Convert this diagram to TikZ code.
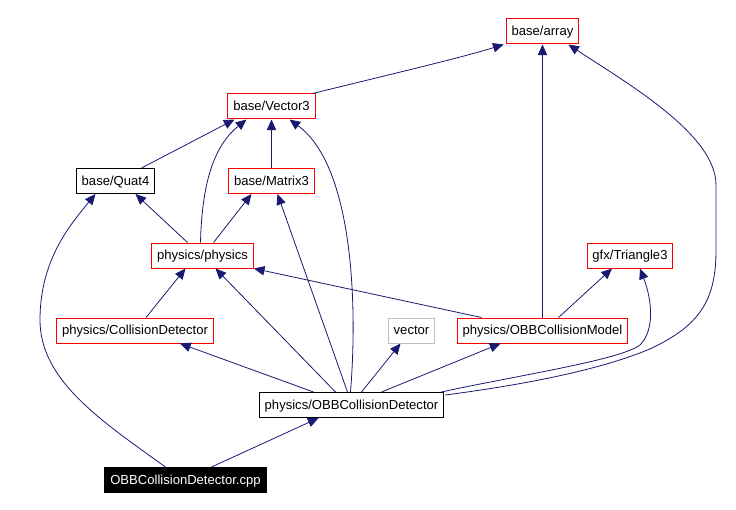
\documentclass[tikz,border=0pt]{standalone}
\usepackage{fontspec}
\setmainfont{Liberation Sans}
\usetikzlibrary{arrows.meta,calc}
\definecolor{incblue}{RGB}{25,25,112}
\definecolor{sysgrey}{RGB}{191,191,191}
\begin{document}
\begin{tikzpicture}[x=0.75pt,y=-0.75pt,
  hfile/.style={draw=red,line width=0.75pt,inner xsep=4.1pt,inner ysep=0pt,text height=7pt,text depth=0.6pt,minimum height=18.75pt,font=\fontsize{9.8}{11}\selectfont},
  hdoc/.style={hfile,draw=black},
  hsys/.style={hfile,draw=sysgrey},
  hroot/.style={hfile,draw=black,fill=black,text=white},
  inc/.style={draw=incblue,line width=0.6pt,-{Triangle[length=8pt,width=7pt]}}]
\useasboundingbox (0,0) rectangle (736,510);

\node[hfile] (arr) at (542.5,31.5) {base/array};
\node[hfile] (vec) at (271.5,106.5) {base/Vector3};
\node[hdoc] (quat) at (115.5,181) {base/Quat4};
\node[hfile] (mat) at (271.5,181) {base/Matrix3};
\node[hfile] (phys) at (202.5,255.5) {physics/physics};
\node[hfile] (tri) at (630,255.5) {gfx/Triangle3};
\node[hfile] (cd) at (135,330.5) {physics/CollisionDetector};
\node[hsys] (vect) at (411.5,330.5) {vector};
\node[hfile] (model) at (542.5,330.5) {physics/OBBCollisionModel};
\node[hdoc] (det) at (351.5,405) {physics/OBBCollisionDetector};
\node[hroot] (cpp) at (185.5,480) {OBBCollisionDetector.cpp};

\draw[inc] ($(vec.north east)+(-3,0)$) .. controls (400,72) and (460,58) .. ($(arr.south west)+(-2,0)$);
\draw[inc] (model.north) -- (arr.south);
\draw[inc] ($(det.north east)+(1,3)$) .. controls (560,380) and (620,362) .. (652,348) .. controls (700,325) and (716,300) .. (716,250) -- (716,185) .. controls (716,135) and (630,85) .. ($(arr.south east)+(-11,0)$);

\draw[inc] ($(quat.north)+(26,0)$) -- ($(vec.south)+(-37,0)$);
\draw[inc] ($(phys.north)+(-2,0)$) .. controls (202,180) and (215,145) .. ($(vec.south)+(-25,0)$);
\draw[inc] (mat) -- (vec);
\draw[inc] ($(det.north)+(-1,0)$) .. controls (358,300) and (352,165) .. ($(vec.south)+(18,0)$);

\draw[inc] ($(cpp.north)+(-20,0)$) .. controls (100,420) and (40,380) .. (40,320) .. controls (40,260) and (70,225) .. ($(quat.south)+(-20,0)$);
\draw[inc] ($(phys.north)+(-15,0)$) -- ($(quat.south)+(20,0)$);
\draw[inc] ($(phys.north)+(11,0)$) -- ($(mat.south)+(-20,0)$);
\draw[inc] ($(det.north)+(-4,0)$) -- ($(mat.south)+(6,0)$);

\draw[inc] ($(cd.north)+(11,0)$) -- ($(phys.south)+(-17,0)$);
\draw[inc] ($(det.north)+(-16,0)$) -- ($(phys.south)+(13,0)$);
\draw[inc] ($(model.north)+(-61,0)$) -- (phys.south east);
\draw[inc] ($(model.north)+(16,0)$) -- ($(tri.south)+(-18,0)$);
\draw[inc] ($(det.north east)+(-3,0)$) .. controls (520,375) and (620,360) .. (640,345) .. controls (655,330) and (652,300) .. ($(tri.south)+(10,0)$);

\draw[inc] ($(det.north)+(-38,0)$) -- ($(cd.south)+(45,0)$);
\draw[inc] ($(det.north)+(10,0)$) -- ($(vect.south)+(-11,0)$);
\draw[inc] ($(det.north)+(30,0)$) -- ($(model.south)+(-42,0)$);
\draw[inc] ($(cpp.north)+(26,0)$) -- ($(det.south)+(-33,0)$);
\end{tikzpicture}
\end{document}
